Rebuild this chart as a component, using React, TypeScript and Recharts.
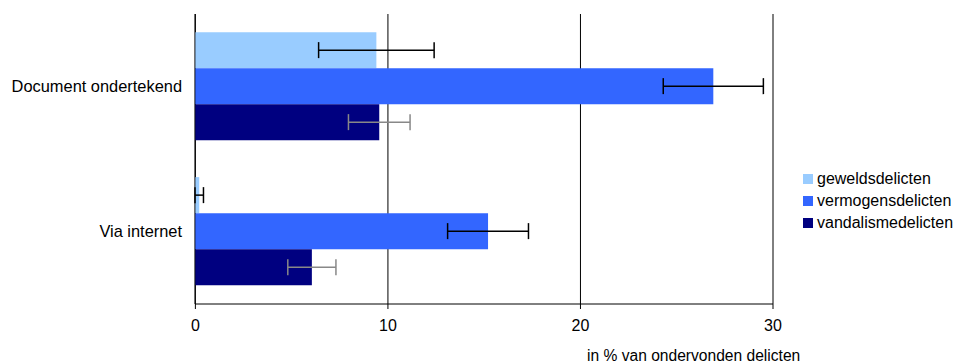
import React from 'react';
import {
    BarChart,
    Bar,
    XAxis,
    YAxis,
    CartesianGrid,
    ErrorBar,
} from 'recharts';

const categories = ['Document ondertekend', 'Via internet'];

const geweld = [9.4, 0.2];
const geweldErr = [3.0, 0.22];
const vermogen = [26.9, 15.2];
const vermogenErr = [2.6, 2.1];
const vandalisme = [9.55, 6.05];
const vandalismeErr = [1.6, 1.25];

const xTicks = [0, 10, 20, 30];

const COLORS = {
    geweld: '#99CCFF',
    vermogen: '#3366FF',
    vandalisme: '#000080',
};

const FONT = '"Liberation Sans", Arial, sans-serif';

const data = categories.map((name, i) => ({
    name,
    geweld: geweld[i],
    geweldErr: geweldErr[i],
    vermogen: vermogen[i],
    vermogenErr: vermogenErr[i],
    vandalisme: vandalisme[i],
    vandalismeErr: vandalismeErr[i],
}));

const legendItems = [
    { label: 'geweldsdelicten', color: COLORS.geweld },
    { label: 'vermogensdelicten', color: COLORS.vermogen },
    { label: 'vandalismedelicten', color: COLORS.vandalisme },
];

export default function App() {
    return (
        <div
            style={{
                position: 'absolute',
                left: 0,
                top: 0,
                width: 958,
                height: 364,
                background: '#fff',
                fontFamily: FONT,
                overflow: 'hidden',
            }}
        >
            <BarChart
                width={958}
                height={364}
                data={data}
                layout="vertical"
                margin={{ top: 14, right: 185, left: 0, bottom: 30 }}
                barCategoryGap="12.5%"
                barGap={0}
            >
                <CartesianGrid
                    horizontal={false}
                    stroke="#000"
                    strokeDasharray=""
                    yAxisId="cat"
                />
                {/* frame axis: carries the left axis line and the band-edge ticks */}
                <YAxis
                    yAxisId="frame"
                    type="number"
                    domain={[0, 2]}
                    ticks={[0, 1, 2]}
                    tick={false}
                    tickSize={6}
                    width={0}
                    axisLine={{ stroke: '#000' }}
                    tickLine={{ stroke: '#000' }}
                />
                <YAxis
                    yAxisId="cat"
                    type="category"
                    dataKey="name"
                    width={195}
                    axisLine={false}
                    tickLine={false}
                    tickSize={0}
                    tickMargin={13}
                    tick={{ fill: '#000', fontSize: 16.4, fontFamily: FONT }}
                />
                <XAxis
                    type="number"
                    domain={[0, 30]}
                    ticks={xTicks}
                    height={30}
                    tickSize={5}
                    tickMargin={11}
                    axisLine={{ stroke: '#000' }}
                    tickLine={{ stroke: '#000' }}
                    tick={{ fill: '#000', fontSize: 16, fontFamily: FONT }}
                />
                <XAxis
                    xAxisId="top"
                    orientation="top"
                    type="number"
                    domain={[0, 30]}
                    height={0}
                    tick={false}
                    tickLine={false}
                    axisLine={{ stroke: '#000' }}
                />
                <Bar dataKey="geweld" yAxisId="cat" fill={COLORS.geweld} isAnimationActive={false}>
                    <ErrorBar dataKey="geweldErr" direction="x" width={8} stroke="#000" strokeWidth={1.5} />
                </Bar>
                <Bar dataKey="vermogen" yAxisId="cat" fill={COLORS.vermogen} isAnimationActive={false}>
                    <ErrorBar dataKey="vermogenErr" direction="x" width={8} stroke="#000" strokeWidth={1.5} />
                </Bar>
                <Bar dataKey="vandalisme" yAxisId="cat" fill={COLORS.vandalisme} isAnimationActive={false}>
                    <ErrorBar dataKey="vandalismeErr" direction="x" width={8} stroke="#888" strokeWidth={1.5} />
                </Bar>
            </BarChart>

            {/* legend */}
            <div style={{ position: 'absolute', left: 803, top: 168 }}>
                {legendItems.map((item) => (
                    <div
                        key={item.label}
                        style={{ display: 'flex', alignItems: 'center', height: 22, fontSize: 16, color: '#000' }}
                    >
                        <span style={{ width: 10, height: 10, background: item.color, marginRight: 4 }} />
                        {item.label}
                    </div>
                ))}
            </div>

            <div
                style={{
                    position: 'absolute',
                    left: 587,
                    top: 347,
                    fontSize: 15.6,
                    color: '#000',
                    whiteSpace: 'nowrap',
                }}
            >
                in % van ondervonden delicten
            </div>
        </div>
    );
}
